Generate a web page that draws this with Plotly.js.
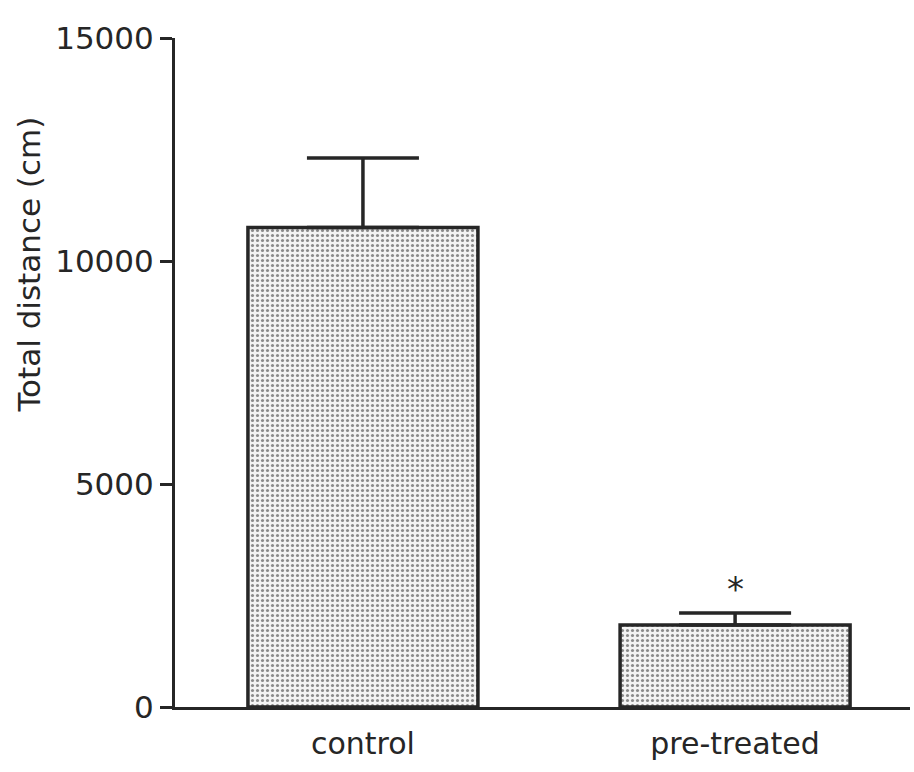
<!DOCTYPE html>
<html>
<head>
<meta charset="utf-8">
<script src="https://cdn.plot.ly/plotly-3.0.1.min.js"></script>
<style>html,body{margin:0;padding:0;background:#fff;}#chart{width:914px;height:772px;}</style>
</head>
<body>
<div id="chart"></div>
<script>
const categories = ["control", "pre-treated"];
const means = [10750, 1840];
const sem = [1560, 270];
const significance = ["", "*"];
const yTicks = [0, 5000, 10000, 15000];
const yTickLabels = ["0", "5000", "10000", "15000"];
const yTitle = "Total distance (cm)";

const FONT = "DejaVu Sans, sans-serif";
const INK = "#262626";

const trace = {
  type: "bar",
  x: categories,
  y: means,
  width: 0.618,
  marker: {
    color: "#efefef",
    line: {color: INK, width: 3.5},
    pattern: {shape: ".", fgcolor: "#8a8a8a", bgcolor: "#f3f3f3", size: 5, solidity: 0.3}
  },
  error_y: {
    type: "data",
    array: sem,
    arrayminus: sem.map(() => 0),
    symmetric: false,
    visible: true,
    color: INK,
    thickness: 3.5,
    width: 56
  },
  hoverinfo: "skip"
};

const annotations = categories.map((c, i) => ({
  x: c, y: means[i] + sem[i], xref: "x", yref: "y",
  text: significance[i], showarrow: false,
  yanchor: "bottom", yshift: 2,
  font: {family: FONT, size: 34, color: INK}
})).filter(a => a.text);

annotations.push({
  xref: "paper", yref: "paper", x: -0.198, y: 0.662,
  xanchor: "center", yanchor: "middle",
  text: yTitle, textangle: -90, showarrow: false,
  font: {family: FONT, size: 31, color: INK}
});

const layout = {
  width: 914, height: 772,
  margin: {l: 175, r: 4, t: 38, b: 65, pad: 0},
  paper_bgcolor: "#fff", plot_bgcolor: "#fff",
  showlegend: false,
  font: {family: FONT, color: INK},
  xaxis: {
    type: "category",
    range: [-0.505, 1.47],
    showline: true, linecolor: INK, linewidth: 3,
    ticks: "", showgrid: false, zeroline: false,
    ticklabelstandoff: 8,
    tickfont: {family: FONT, size: 30, color: INK}
  },
  yaxis: {
    range: [0, 15000],
    tickvals: yTicks, ticktext: yTickLabels,
    showline: true, linecolor: INK, linewidth: 3,
    ticks: "outside", ticklen: 12, tickwidth: 3, tickcolor: INK,
    showgrid: false, zeroline: false,
    tickfont: {family: FONT, size: 31, color: INK}
  },
  annotations: annotations
};

Plotly.newPlot("chart", [trace], layout, {displayModeBar: false, staticPlot: true});
</script>
</body>
</html>
